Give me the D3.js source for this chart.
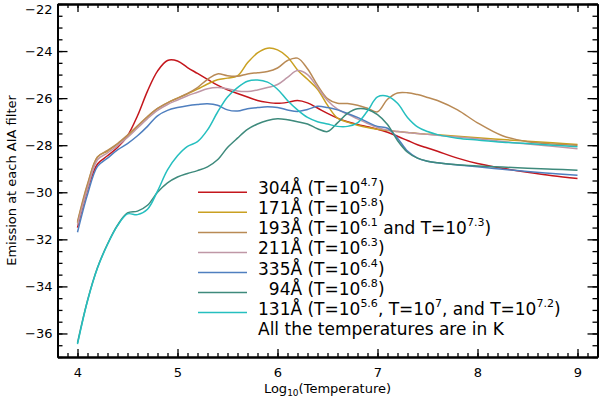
<!DOCTYPE html>
<html>
<head>
<meta charset="utf-8">
<script src="https://cdn.jsdelivr.net/npm/d3@7"></script>
<style>
body { margin: 0; background: #fff; }
text { font-family: "DejaVu Sans", sans-serif; }
</style>
</head>
<body>
<script>
// log10(T) grid shared by all filters
var temps = [4.0, 4.1, 4.2, 4.3, 4.4, 4.5, 4.6, 4.7, 4.8, 4.9,
	5.0, 5.1, 5.2, 5.3, 5.4, 5.5, 5.6, 5.7, 5.8, 5.9,
	6.0, 6.1, 6.2, 6.3, 6.4, 6.5, 6.6, 6.7, 6.8, 6.9,
	7.0, 7.1, 7.2, 7.3, 7.4, 7.5, 7.6, 7.8, 8.0, 8.25, 8.5, 8.75, 9.0];

var em304 = [-31.5, -29.9, -28.8, -28.45, -28.1, -27.6, -26.75, -25.7, -24.85, -24.4,
	-24.42, -24.7, -24.95, -25.2, -25.45, -25.65, -25.8, -25.95, -26.1, -26.18,
	-26.22, -26.18, -26.1, -26.2, -26.42, -26.65, -26.85, -27.0, -27.12, -27.22,
	-27.32, -27.45, -27.62, -27.8, -27.98, -28.12, -28.26, -28.55, -28.78, -28.98, -29.15, -29.3, -29.42];
var em171 = [-31.3, -29.7, -28.5, -28.25, -27.95, -27.6, -27.2, -26.8, -26.45, -26.2,
	-26.0, -25.82, -25.62, -25.4, -25.22, -25.15, -25.05, -24.5, -24.08, -23.88,
	-23.95, -24.25, -24.8, -25.2, -25.62, -26.3, -26.85, -27.02, -27.15, -27.25,
	-27.32, -27.38, -27.42, -27.46, -27.5, -27.53, -27.56, -27.62, -27.68, -27.76, -27.83, -27.9, -27.97];
var em193 = [-31.25, -29.65, -28.5, -28.22, -27.93, -27.57, -27.18, -26.78, -26.44, -26.2,
	-26.0, -25.8, -25.55, -25.2, -24.97, -25.05, -25.07, -24.97, -24.92, -24.87,
	-24.72, -24.4, -24.3, -24.75, -25.45, -26.02, -26.22, -26.23, -26.3, -26.43,
	-26.58, -26.05, -25.78, -25.77, -25.85, -25.97, -26.1, -26.5, -27.05, -27.6, -27.85, -27.95, -28.0];
var em211 = [-31.4, -29.85, -28.62, -28.33, -28.02, -27.67, -27.27, -26.87, -26.52, -26.27,
	-26.08, -25.9, -25.75, -25.6, -25.55, -25.6, -25.7, -25.72, -25.65, -25.55,
	-25.42, -25.12, -24.83, -25.0, -25.55, -26.1, -26.47, -26.68, -26.88, -27.08,
	-27.25, -27.36, -27.42, -27.46, -27.5, -27.54, -27.58, -27.65, -27.73, -27.84, -27.95, -28.05, -28.15];
var em335 = [-31.7, -30.1, -28.9, -28.55, -28.2, -27.93, -27.6, -27.2, -26.75, -26.52,
	-26.4, -26.32, -26.27, -26.24, -26.3, -26.5, -26.55, -26.45, -26.4, -26.37,
	-26.4, -26.5, -26.57, -26.48, -26.35, -26.4, -26.5, -26.65, -26.82, -27.02,
	-27.2, -27.28, -27.7, -28.25, -28.55, -28.68, -28.75, -28.84, -28.92, -29.02, -29.12, -29.2, -29.28];
var em94 = [-36.4, -34.6, -33.2, -32.2, -31.4, -30.88, -30.8, -30.55, -30.0, -29.6,
	-29.35, -29.2, -29.08, -28.92, -28.62, -28.1, -27.7, -27.33, -27.1, -26.95,
	-26.88, -26.92, -27.0, -27.1, -27.3, -27.42, -27.05, -26.65, -26.45, -26.48,
	-26.7, -27.12, -27.8, -28.3, -28.55, -28.68, -28.75, -28.83, -28.88, -28.93, -28.98, -29.02, -29.06];
var em131 = [-36.45, -34.62, -33.22, -32.22, -31.42, -30.92, -30.95, -30.72, -29.95, -29.05,
	-28.45, -28.05, -27.85, -27.35, -26.6, -25.95, -25.55, -25.28, -25.23, -25.32,
	-25.62, -26.1, -26.5, -26.82, -27.0, -27.1, -27.2, -27.2, -27.05, -26.55,
	-25.95, -25.92, -26.22, -26.82, -27.22, -27.42, -27.55, -27.7, -27.78, -27.87, -27.93, -28.0, -28.07];

var seriesNames = ["304", "171", "193", "211", "335", "94", "131"];
var seriesColors = ["#c4161c", "#c9a021", "#b98a55", "#bf97a6", "#4f7fbf", "#3e8a7c", "#25bfbf"];
var seriesValues = [em304, em171, em193, em211, em335, em94, em131];

// legend text: even parts normal, odd parts superscript
var legendLabels = [
	["304Å (T=10", "4.7", ")"],
	["171Å (T=10", "5.8", ")"],
	["193Å (T=10", "6.1", " and T=10", "7.3", ")"],
	["211Å (T=10", "6.3", ")"],
	["335Å (T=10", "6.4", ")"],
	["\u200794Å (T=10", "6.8", ")"],
	["131Å (T=10", "5.6", ", T=10", "7", ", and T=10", "7.2", ")"]
];
var legendNote = "All the temperatures are in K";

var xMajor = [4, 5, 6, 7, 8, 9];
var yMajor = [-36, -34, -32, -30, -28, -26, -24, -22];

var margin = {left: 57.5, right: 2.5, top: 4, bottom: 42},
	width = 600 - margin.left - margin.right,
	height = 399 - margin.top - margin.bottom;

var svg = d3.select("body")
	.append("svg")
	.attr("width", 600)
	.attr("height", 399)
	.append("g")
	.attr("transform", "translate(" + margin.left + "," + margin.top + ")");

var x = d3.scaleLinear().domain([3.8, 9.2]).range([0, width]);
var y = d3.scaleLinear().domain([-37, -22]).range([height, 0]);

var xMinor = d3.range(38, 93).map(function(v) { return v / 10; });
var yMinor = d3.range(-74, -43).map(function(v) { return v / 2; });

function styleAxis(g) {
	g.select(".domain").attr("stroke", "#000").attr("stroke-width", 1.8);
	g.selectAll(".tick line").attr("stroke", "#000").attr("stroke-width", 1.3);
	g.selectAll("text").attr("fill", "#000").style("font-size", "13px");
}

// bottom
svg.append("g").attr("transform", "translate(0," + height + ")")
	.call(d3.axisBottom(x).tickValues(xMinor).tickSize(-4).tickSizeOuter(0).tickFormat(""))
	.call(styleAxis);
svg.append("g").attr("transform", "translate(0," + height + ")")
	.call(d3.axisBottom(x).tickValues(xMajor).tickSize(-8).tickSizeOuter(0).tickPadding(11).tickFormat(d3.format("d")))
	.call(styleAxis);
// top
svg.append("g")
	.call(d3.axisTop(x).tickValues(xMinor).tickSize(-4).tickSizeOuter(0).tickFormat(""))
	.call(styleAxis);
svg.append("g")
	.call(d3.axisTop(x).tickValues(xMajor).tickSize(-8).tickSizeOuter(0).tickFormat(""))
	.call(styleAxis);
// left
svg.append("g")
	.call(d3.axisLeft(y).tickValues(yMinor).tickSize(-5).tickSizeOuter(0).tickFormat(""))
	.call(styleAxis);
var yAxisG = svg.append("g")
	.call(d3.axisLeft(y).tickValues(yMajor).tickSize(-10).tickSizeOuter(0).tickPadding(5).tickFormat(d3.format("d")))
	.call(styleAxis);
// top label sits just inside the window
yAxisG.selectAll(".tick text").filter(function(d) { return d == -22; }).attr("y", 5);
// right
svg.append("g").attr("transform", "translate(" + width + ",0)")
	.call(d3.axisRight(y).tickValues(yMinor).tickSize(-5).tickSizeOuter(0).tickFormat(""))
	.call(styleAxis);
svg.append("g").attr("transform", "translate(" + width + ",0)")
	.call(d3.axisRight(y).tickValues(yMajor).tickSize(-10).tickSizeOuter(0).tickFormat(""))
	.call(styleAxis);

// axis titles
var xt = svg.append("text")
	.attr("x", width / 2)
	.attr("y", height + 36)
	.attr("text-anchor", "middle")
	.style("font-size", "13px");
xt.append("tspan").text("Log");
xt.append("tspan").attr("dy", 3).style("font-size", "9px").text("10");
xt.append("tspan").attr("dy", -3).text("(Temperature)");

svg.append("text")
	.attr("transform", "translate(" + (-42) + "," + (height / 2) + ") rotate(-90)")
	.attr("text-anchor", "middle")
	.style("font-size", "13px")
	.text("Emission at each AIA filter");

// curves
var line = d3.line()
	.x(function(d) { return x(d[0]); })
	.y(function(d) { return y(d[1]); })
	.curve(d3.curveCatmullRom.alpha(0.5));

seriesValues.forEach(function(vals, i) {
	svg.append("path")
		.datum(temps.map(function(t, j) { return [t, vals[j]]; }))
		.attr("d", line)
		.attr("fill", "none")
		.attr("stroke", seriesColors[i])
		.attr("stroke-width", 1.5);
});

// legend
var lx1 = 198 - margin.left, lx2 = 247 - margin.left, tx = 258 - margin.left;
var row0 = 192.3 - margin.top, rowStep = 20.05;

legendLabels.forEach(function(parts, i) {
	var ly = row0 + i * rowStep;
	svg.append("line")
		.attr("x1", lx1).attr("x2", lx2)
		.attr("y1", ly).attr("y2", ly)
		.attr("stroke", seriesColors[i])
		.attr("stroke-width", 1.5);
	var t = svg.append("text")
		.attr("x", tx)
		.attr("y", ly + 2)
		.attr("xml:space", "preserve")
		.style("font-size", "17px");
	parts.forEach(function(p, k) {
		if (k % 2 == 1) {
			t.append("tspan").attr("dy", -8).style("font-size", "11px").text(p);
		} else {
			t.append("tspan").attr("dy", k == 0 ? 0 : 8).text(p);
		}
	});
});

svg.append("text")
	.attr("x", tx)
	.attr("y", row0 + 7 * rowStep + 2)
	.style("font-size", "17px")
	.text(legendNote);
</script>
</body>
</html>
